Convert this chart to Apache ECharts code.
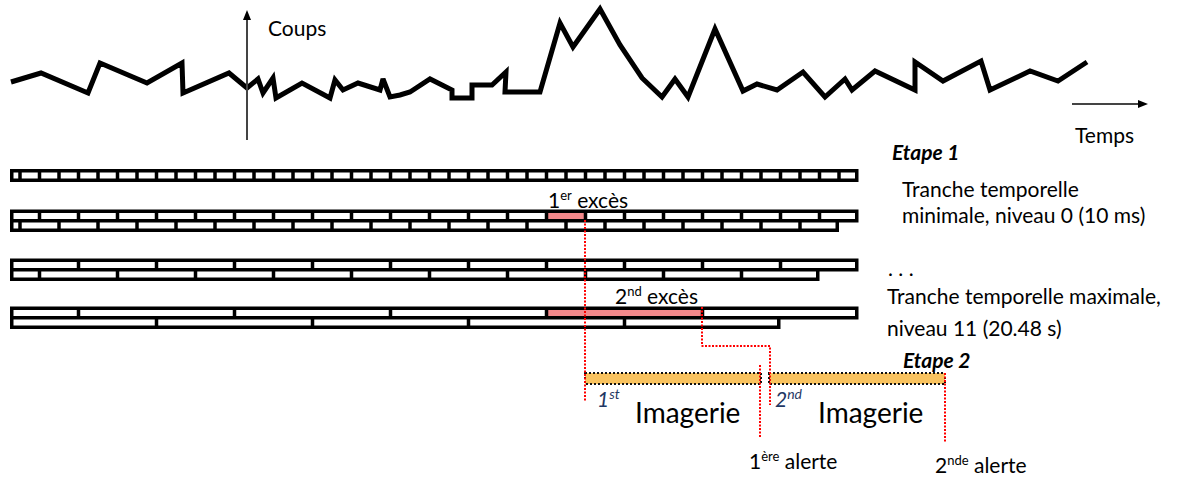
<!DOCTYPE html>
<html lang="fr">
<head>
<meta charset="utf-8">
<title>Tranches temporelles et imagerie</title>
<script src="https://cdn.jsdelivr.net/npm/echarts@6.0.0/dist/echarts.min.js"></script>
<style>
  html, body { margin: 0; padding: 0; background: #fff; }
  #chart { width: 1183px; height: 477px; }
</style>
</head>
<body>
<div id="chart"></div>
<script>
// Courbe des coups (x = temps, y = niveau, repère du schéma, y vers le bas)
const COUNT_CURVE = [
  [11, 82], [41, 73], [88, 93], [100, 63], [147, 83], [182, 63], [183, 93],
  [229, 73], [247, 88], [258, 79], [263, 93], [273, 78], [276, 98], [302, 83],
  [330, 98], [335, 80], [343, 90], [358, 83], [380, 90], [383, 79], [390, 97],
  [400, 95], [410, 92], [430, 79], [452, 90], [452, 98], [472, 98], [472, 85],
  [492, 85], [506, 72], [505, 92], [540, 92], [560, 23], [573, 47], [600, 9],
  [620, 45], [642, 78], [662, 97], [675, 79], [688, 97], [715, 29], [743, 91],
  [757, 84], [777, 90], [803, 72], [825, 97], [845, 79], [852, 90], [875, 71],
  [915, 90], [915, 62], [943, 81], [981, 61], [990, 90], [1030, 71], [1058, 81],
  [1087, 62]
];

// Tranches temporelles, en unités de 10 ms
const LEVEL_NAMES = ['niveau 0', 'niveau 1', 'niveau 2', 'niveau 11'];
const SLICE_WIDTH = [1, 2, 4, 8];
const SUBROW_PHASE = [[0], [1, 0], [3, 1], [3, 7]];
const SUBROW_END = [[43], [43, 42], [43, 41], [43, 39]];
// [niveau, sous-rangée, début, fin]
const EXCESS = [[1, 0, 27, 29], [3, 0, 27, 35]];

// Imagerie et alertes
const IMAGING = [[585, 761], [769, 945]];
const ALERT_PATHS = [
  [[585, 220], [585, 402]],
  [[702, 307], [702, 346], [770, 346], [770, 405]],
  [[760, 365], [760, 438]],
  [[945, 373], [945, 442]]
];

// Axes dessinés : [x1, y1, x2, y2]
const AXIS_ARROWS = [[247, 140, 247, 10], [1072, 104, 1148, 104]];

// Textes : [texte, x, y, style]
const LABELS = [
  ['Coups', 268, 27, 'body'],
  ['Temps', 1075, 134, 'body'],
  ['Etape 1', 892, 151, 'step'],
  ['Tranche temporelle', 902, 188, 'body'],
  ['minimale, niveau 0 (10 ms)', 902, 214, 'body'],
  ['. . .', 888, 267, 'body'],
  ['Tranche temporelle maximale,', 887, 295, 'body'],
  ['niveau 11 (20.48 s)', 887, 327, 'body'],
  ['Etape 2', 903, 359, 'step'],
  ['1{sup|er} excès', 548, 199, 'body'],
  ['2{sup|nd} excès', 615, 295, 'body'],
  ['1{sup|st}', 597, 398, 'ord'],
  ['2{sup|nd}', 775, 398, 'ord'],
  ['Imagerie', 635, 412, 'big'],
  ['Imagerie', 818, 412, 'big'],
  ['1{sup|ère} alerte', 749, 460, 'body'],
  ['2{sup|nde} alerte', 935, 464, 'body']
];

// Mise en page
const FONT = 'Lato, "Liberation Sans", sans-serif';
const SLOT_X0 = 20;
const SLOT_W = 19.5;
const ROW_LEFT = 10;
const LEVEL_TOP = [169, 209.5, 258.5, 306.5];
const SUB_PITCH = 9.5;
const SUB_HEIGHT = 13;
const BORDER = 3.5;
const CELL_H = 6;
const DIVIDER = 3.5;

const tx = (t) => SLOT_X0 + SLOT_W * t;

const TEXT_STYLES = {
  body: { fontSize: 21, fill: '#000', fontStyle: 'normal', fontWeight: 'normal', sup: 13 },
  step: { fontSize: 21, fill: '#000', fontStyle: 'italic', fontWeight: 'bold', sup: 12 },
  ord: { fontSize: 21, fill: '#1F3864', fontStyle: 'italic', fontWeight: 'normal', sup: 14 },
  big: { fontSize: 28, fill: '#000', fontStyle: 'normal', fontWeight: 'normal', sup: 16 }
};

function rectBetween(api, x1, y1, x2, y2, style) {
  const a = api.coord([x1, y1]);
  const b = api.coord([x2, y2]);
  return {
    type: 'rect',
    shape: { x: a[0], y: a[1], width: b[0] - a[0], height: b[1] - a[1] },
    style: style
  };
}

function renderSlices(params, api) {
  const lvl = api.value(0);
  const width = SLICE_WIDTH[lvl];
  const frames = [];
  const cells = [];

  SUBROW_PHASE[lvl].forEach((phase, s) => {
    const y0 = LEVEL_TOP[lvl] + s * SUB_PITCH;
    const tEnd = SUBROW_END[lvl][s];
    frames.push(rectBetween(api, ROW_LEFT, y0, tx(tEnd), y0 + SUB_HEIGHT, { fill: '#000' }));

    const bounds = [(ROW_LEFT - SLOT_X0) / SLOT_W];
    for (let t = phase; t < tEnd; t += width) bounds.push(t);
    bounds.push(tEnd);

    for (let i = 0; i < bounds.length - 1; i++) {
      const left = tx(bounds[i]) + (i === 0 ? BORDER : DIVIDER / 2);
      const right = tx(bounds[i + 1]) - (i === bounds.length - 2 ? BORDER : DIVIDER / 2);
      const hit = EXCESS.some(e => e[0] === lvl && e[1] === s && e[2] === bounds[i] && e[3] === bounds[i + 1]);
      cells.push(rectBetween(api, left, y0 + BORDER, right, y0 + BORDER + CELL_H,
        { fill: hit ? '#F4898B' : '#fff' }));
    }
  });

  return { type: 'group', children: frames.concat(cells) };
}

function renderImaging(params, api) {
  const x1 = api.value(0);
  const x2 = api.value(1);
  return rectBetween(api, x1, 373, x2, 384, {
    fill: '#F9C35F',
    stroke: '#111',
    lineWidth: 2,
    lineDash: [2, 2]
  });
}

function renderArrow(params, api) {
  const a = api.coord([api.value(0), api.value(1)]);
  const b = api.coord([api.value(2), api.value(3)]);
  const len = Math.hypot(b[0] - a[0], b[1] - a[1]);
  const ux = (b[0] - a[0]) / len;
  const uy = (b[1] - a[1]) / len;
  const head = 10;
  const half = 4;
  const bx = b[0] - ux * head;
  const by = b[1] - uy * head;
  return {
    type: 'group',
    children: [
      {
        type: 'line',
        shape: { x1: a[0], y1: a[1], x2: bx, y2: by },
        style: { stroke: '#444', lineWidth: 2 }
      },
      {
        type: 'polygon',
        shape: { points: [[b[0], b[1]], [bx - uy * half, by + ux * half], [bx + uy * half, by - ux * half]] },
        style: { fill: '#000' }
      }
    ]
  };
}

function renderLabel(params, api) {
  const item = LABELS[params.dataIndex];
  const st = TEXT_STYLES[item[3]];
  const p = api.coord([item[1], item[2]]);
  return {
    type: 'text',
    x: p[0],
    y: p[1],
    style: {
      text: item[0],
      fontFamily: FONT,
      fontSize: st.fontSize,
      fontStyle: st.fontStyle,
      fontWeight: st.fontWeight,
      fill: st.fill,
      align: 'left',
      verticalAlign: 'middle',
      rich: {
        sup: {
          fontFamily: FONT,
          fontSize: st.sup,
          fontStyle: st.fontStyle,
          fill: st.fill,
          padding: [0, 0, Math.round(st.fontSize * 0.45), 0]
        }
      }
    }
  };
}

const chart = echarts.init(document.getElementById('chart'), null, { renderer: 'svg' });

const alertSeries = ALERT_PATHS.map((path, i) => ({
  type: 'line',
  name: 'alerte ' + (i + 1),
  data: path,
  symbol: 'none',
  silent: true,
  z: 6,
  lineStyle: { color: '#FF0000', width: 2, type: [2, 1.5] }
}));

chart.setOption({
  animation: false,
  backgroundColor: '#fff',
  grid: { left: 0, right: 0, top: 0, bottom: 0 },
  xAxis: { type: 'value', min: 0, max: 1183, show: false },
  yAxis: { type: 'value', min: 0, max: 477, inverse: true, show: false },
  series: [
    {
      type: 'line',
      name: 'Coups',
      data: COUNT_CURVE,
      symbol: 'none',
      silent: true,
      z: 3,
      lineStyle: { color: '#000', width: 5, join: 'miter', miterLimit: 3 }
    },
    {
      type: 'custom',
      name: 'axes',
      data: AXIS_ARROWS,
      renderItem: renderArrow,
      silent: true,
      z: 4
    },
    {
      type: 'custom',
      name: 'tranches',
      data: LEVEL_NAMES.map((n, i) => [i]),
      renderItem: renderSlices,
      silent: true,
      z: 2
    },
    {
      type: 'custom',
      name: 'imagerie',
      data: IMAGING,
      renderItem: renderImaging,
      silent: true,
      z: 5
    },
    ...alertSeries,
    {
      type: 'custom',
      name: 'textes',
      data: LABELS.map((l, i) => [i]),
      renderItem: renderLabel,
      silent: true,
      z: 8
    }
  ]
});
</script>
</body>
</html>
